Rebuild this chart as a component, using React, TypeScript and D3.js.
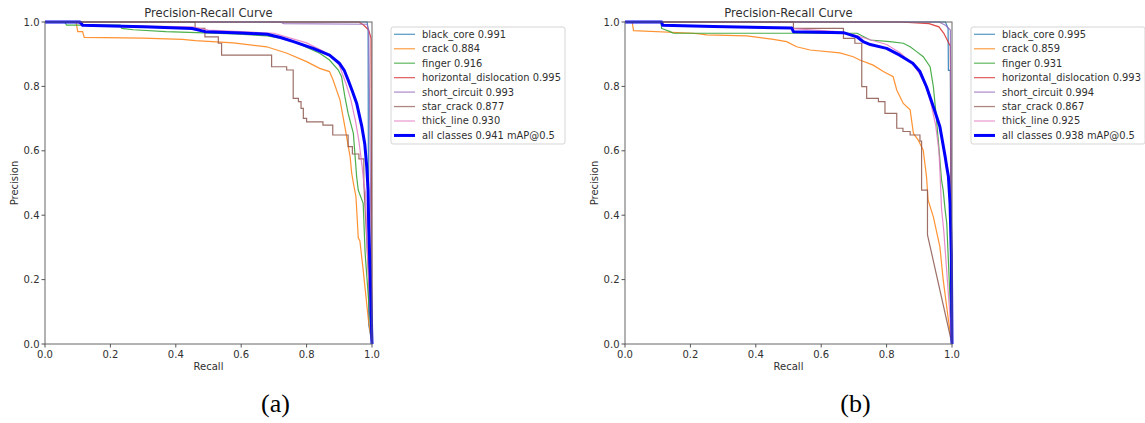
import React from "react";
import * as d3 from "d3";

type Pt = [number, number];

const classNames = ["black_core", "crack", "finger", "horizontal_dislocation", "short_circuit", "star_crack", "thick_line"];
const classColors = ["#1f77b4", "#ff7f0e", "#2ca02c", "#d62728", "#9467bd", "#8c564b", "#e377c2"];
const apA = [0.991, 0.884, 0.916, 0.995, 0.993, 0.877, 0.93];
const apB = [0.995, 0.859, 0.931, 0.993, 0.994, 0.867, 0.925];
const mapA = 0.941;
const mapB = 0.938;
const tickValues = [0, 0.2, 0.4, 0.6, 0.8, 1.0];

// ---- chart (a) ----
const aBlackCore: Pt[] = [[0, 1], [0.985, 1], [0.988, 0.98], [0.99, 0.06], [1, 0]];
const aCrack: Pt[] = [[0, 1], [0.095, 1], [0.1, 0.97], [0.115, 0.97], [0.12, 0.952], [0.3, 0.95], [0.42, 0.946], [0.46, 0.942], [0.576, 0.935], [0.678, 0.923], [0.74, 0.903], [0.8, 0.877], [0.84, 0.856], [0.87, 0.846], [0.881, 0.82], [0.902, 0.758], [0.917, 0.675], [0.933, 0.582], [0.938, 0.53], [0.943, 0.5], [0.951, 0.457], [0.958, 0.33], [0.963, 0.32], [0.973, 0.23], [0.989, 0.075], [1, 0]];
const aFinger: Pt[] = [[0, 1], [0.06, 1], [0.066, 0.99], [0.23, 0.99], [0.235, 0.98], [0.27, 0.976], [0.37, 0.97], [0.58, 0.963], [0.68, 0.957], [0.75, 0.944], [0.84, 0.903], [0.87, 0.882], [0.897, 0.851], [0.907, 0.83], [0.917, 0.768], [0.927, 0.716], [0.943, 0.654], [0.953, 0.52], [0.958, 0.478], [0.973, 0.437], [0.979, 0.282], [0.994, 0.075], [1, 0]];
const aHoriz: Pt[] = [[0, 1], [0.96, 1], [0.975, 0.99], [0.99, 0.975], [0.997, 0.95], [1, 0]];
const aShort: Pt[] = [[0, 1], [0.72, 1], [0.73, 0.995], [0.985, 0.993], [0.99, 0.97], [0.995, 0.5], [1, 0]];
const aStar: Pt[] = [[0, 1], [0.459, 1], [0.459, 0.98], [0.489, 0.98], [0.489, 0.954], [0.53, 0.954], [0.53, 0.934], [0.54, 0.934], [0.54, 0.897], [0.693, 0.897], [0.693, 0.861], [0.739, 0.861], [0.739, 0.851], [0.759, 0.851], [0.759, 0.763], [0.775, 0.763], [0.775, 0.753], [0.783, 0.753], [0.783, 0.732], [0.79, 0.732], [0.79, 0.701], [0.8, 0.701], [0.8, 0.69], [0.85, 0.69], [0.85, 0.68], [0.88, 0.68], [0.88, 0.649], [0.927, 0.649], [0.927, 0.613], [0.94, 0.613], [0.94, 0.59], [0.96, 0.59], [0.96, 0.575], [0.975, 0.575], [0.975, 0.5], [1, 0]];
const aThick: Pt[] = [[0, 1], [0.1, 1], [0.11, 0.99], [0.45, 0.985], [0.5, 0.975], [0.6, 0.97], [0.7, 0.965], [0.75, 0.95], [0.8, 0.935], [0.85, 0.91], [0.88, 0.89], [0.9, 0.865], [0.92, 0.81], [0.935, 0.76], [0.95, 0.69], [0.96, 0.63], [0.97, 0.55], [0.975, 0.5], [0.98, 0.47], [0.985, 0.3], [1, 0]];
const aAll: Pt[] = [[0, 1], [0.107, 1], [0.115, 0.99], [0.3, 0.985], [0.45, 0.98], [0.49, 0.97], [0.6, 0.966], [0.68, 0.962], [0.72, 0.952], [0.76, 0.939], [0.82, 0.918], [0.87, 0.897], [0.9, 0.872], [0.915, 0.85], [0.927, 0.82], [0.94, 0.785], [0.953, 0.748], [0.969, 0.675], [0.978, 0.62], [0.984, 0.55], [0.988, 0.478], [0.99, 0.363], [0.995, 0.2], [1, 0]];

// ---- chart (b) ----
const bBlackCore: Pt[] = [[0, 1], [0.98, 1], [0.988, 0.98], [0.989, 0.85], [0.995, 0.85], [0.997, 0.1], [1, 0]];
const bCrack: Pt[] = [[0, 1], [0.022, 1], [0.026, 0.973], [0.209, 0.965], [0.25, 0.96], [0.372, 0.957], [0.454, 0.946], [0.494, 0.939], [0.525, 0.923], [0.566, 0.913], [0.657, 0.904], [0.698, 0.892], [0.718, 0.882], [0.759, 0.866], [0.79, 0.846], [0.82, 0.83], [0.831, 0.789], [0.851, 0.747], [0.872, 0.727], [0.882, 0.654], [0.897, 0.633], [0.912, 0.602], [0.922, 0.52], [0.927, 0.447], [0.943, 0.395], [0.963, 0.302], [0.973, 0.2], [0.989, 0.075], [1, 0]];
const bFinger: Pt[] = [[0, 1], [0.11, 1], [0.112, 0.98], [0.138, 0.97], [0.148, 0.965], [0.71, 0.965], [0.75, 0.944], [0.81, 0.939], [0.851, 0.934], [0.872, 0.923], [0.892, 0.908], [0.912, 0.892], [0.933, 0.861], [0.943, 0.799], [0.951, 0.716], [0.958, 0.633], [0.968, 0.509], [0.973, 0.478], [0.979, 0.416], [0.984, 0.375], [1, 0]];
const bHoriz: Pt[] = [[0, 1], [0.84, 1], [0.93, 0.995], [0.96, 0.985], [0.975, 0.965], [0.985, 0.945], [0.995, 0.925], [1, 0]];
const bShort: Pt[] = [[0, 1], [0.96, 1], [0.98, 0.99], [0.995, 0.975], [1, 0]];
const bStar: Pt[] = [[0, 1], [0.515, 1], [0.515, 0.98], [0.668, 0.98], [0.668, 0.949], [0.703, 0.949], [0.703, 0.934], [0.724, 0.934], [0.724, 0.799], [0.739, 0.799], [0.739, 0.763], [0.775, 0.763], [0.775, 0.753], [0.795, 0.753], [0.795, 0.716], [0.831, 0.716], [0.831, 0.67], [0.85, 0.67], [0.85, 0.66], [0.872, 0.66], [0.872, 0.649], [0.902, 0.649], [0.902, 0.63], [0.907, 0.63], [0.907, 0.478], [0.925, 0.478], [0.925, 0.339], [1, 0]];
const bThick: Pt[] = [[0, 1], [0.11, 1], [0.115, 0.99], [0.5, 0.98], [0.65, 0.97], [0.7, 0.96], [0.75, 0.945], [0.8, 0.93], [0.84, 0.905], [0.88, 0.87], [0.9, 0.84], [0.92, 0.8], [0.935, 0.75], [0.95, 0.68], [0.96, 0.6], [0.963, 0.54], [0.968, 0.42], [0.975, 0.35], [0.98, 0.28], [1, 0]];
const bAll: Pt[] = [[0, 1], [0.112, 1], [0.115, 0.99], [0.27, 0.986], [0.51, 0.981], [0.515, 0.97], [0.668, 0.967], [0.709, 0.954], [0.73, 0.938], [0.75, 0.93], [0.8, 0.918], [0.84, 0.897], [0.88, 0.872], [0.902, 0.846], [0.922, 0.799], [0.943, 0.737], [0.963, 0.675], [0.979, 0.582], [0.984, 0.55], [0.989, 0.52], [0.994, 0.437], [0.998, 0.28], [1, 0]];

const seriesA = [aBlackCore, aCrack, aFinger, aHoriz, aShort, aStar, aThick];
const seriesB = [bBlackCore, bCrack, bFinger, bHoriz, bShort, bStar, bThick];

const FONT = "'DejaVu Sans', sans-serif";
const TXT = "#303030";

function PRChart({ left, series, all, ap, map, caption }: { left: number; series: Pt[][]; all: Pt[]; ap: number[]; map: number; caption: string }) {
  const x0 = left, x1 = left + 327, y0 = 344, y1 = 22;
  const x = d3.scaleLinear().domain([0, 1]).range([x0, x1]);
  const y = d3.scaleLinear().domain([0, 1]).range([y0, y1]);
  const line = d3.line<Pt>().x((d) => x(d[0])).y((d) => y(d[1]));
  const lx = x1 + 19, ly = 27, lw = 174, lh = 117, rowH = 14.45;
  const cx = (x0 + x1) / 2;
  return (
    <g>
      {series.map((s, i) => (
        <path key={i} d={line(s) || ""} fill="none" stroke={classColors[i]} strokeWidth={1.2} opacity={0.85} />
      ))}
      <path d={line(all) || ""} fill="none" stroke="#0000ff" strokeWidth={3} strokeLinejoin="round" />
      <rect x={x0} y={y1} width={x1 - x0} height={y0 - y1} fill="none" stroke="#666" strokeWidth={1} />
      {tickValues.map((t) => (
        <g key={"x" + t}>
          <line x1={x(t)} x2={x(t)} y1={y0} y2={y0 + 3.5} stroke="#555" />
          <text x={x(t)} y={y0 + 14} textAnchor="middle" fontSize={10} fontFamily={FONT} fill={TXT}>{d3.format(".1f")(t)}</text>
          <line x1={x0 - 3.5} x2={x0} y1={y(t)} y2={y(t)} stroke="#555" />
          <text x={x0 - 5.5} y={y(t)} dy="0.35em" textAnchor="end" fontSize={10} fontFamily={FONT} fill={TXT}>{d3.format(".1f")(t)}</text>
        </g>
      ))}
      <text x={cx} y={17} textAnchor="middle" fontSize={11.6} fontFamily={FONT} fill={TXT}>Precision-Recall Curve</text>
      <text x={cx} y={370} textAnchor="middle" fontSize={10} fontFamily={FONT} fill={TXT}>Recall</text>
      <text transform={`translate(${x0 - 27},${(y0 + y1) / 2}) rotate(-90)`} textAnchor="middle" fontSize={10} fontFamily={FONT} fill={TXT}>Precision</text>
      <rect x={lx} y={ly} width={lw} height={lh} rx={2} fill="#fff" stroke="#d5d5d5" strokeWidth={1} />
      {classNames.map((n, i) => (
        <g key={n}>
          <line x1={lx + 3} x2={lx + 24} y1={ly + 7.3 + i * rowH} y2={ly + 7.3 + i * rowH} stroke={classColors[i]} strokeWidth={1.3} opacity={0.7} />
          <text x={lx + 31} y={ly + 7.3 + i * rowH} dy="0.35em" fontSize={9.9} fontFamily={FONT} fill={TXT}>{`${n} ${d3.format(".3f")(ap[i])}`}</text>
        </g>
      ))}
      <line x1={lx + 3} x2={lx + 24} y1={ly + 7.3 + 7 * rowH} y2={ly + 7.3 + 7 * rowH} stroke="#0000ff" strokeWidth={3} />
      <text x={lx + 31} y={ly + 7.3 + 7 * rowH} dy="0.35em" fontSize={9.9} fontFamily={FONT} fill={TXT}>{`all classes ${d3.format(".3f")(map)} mAP@0.5`}</text>
      <text x={cx + 67} y={412} textAnchor="middle" fontSize={26} fontFamily="'Liberation Serif', 'Times New Roman', serif" fill="#000">{caption}</text>
    </g>
  );
}

export default function App() {
  return (
    <svg width={1145} height={423} style={{ position: "absolute", left: 0, top: 0, background: "#fff" }}>
      <rect width={1145} height={423} fill="#fff" />
      <PRChart left={45} series={seriesA} all={aAll} ap={apA} map={mapA} caption="(a)" />
      <PRChart left={625} series={seriesB} all={bAll} ap={apB} map={mapB} caption="(b)" />
    </svg>
  );
}
